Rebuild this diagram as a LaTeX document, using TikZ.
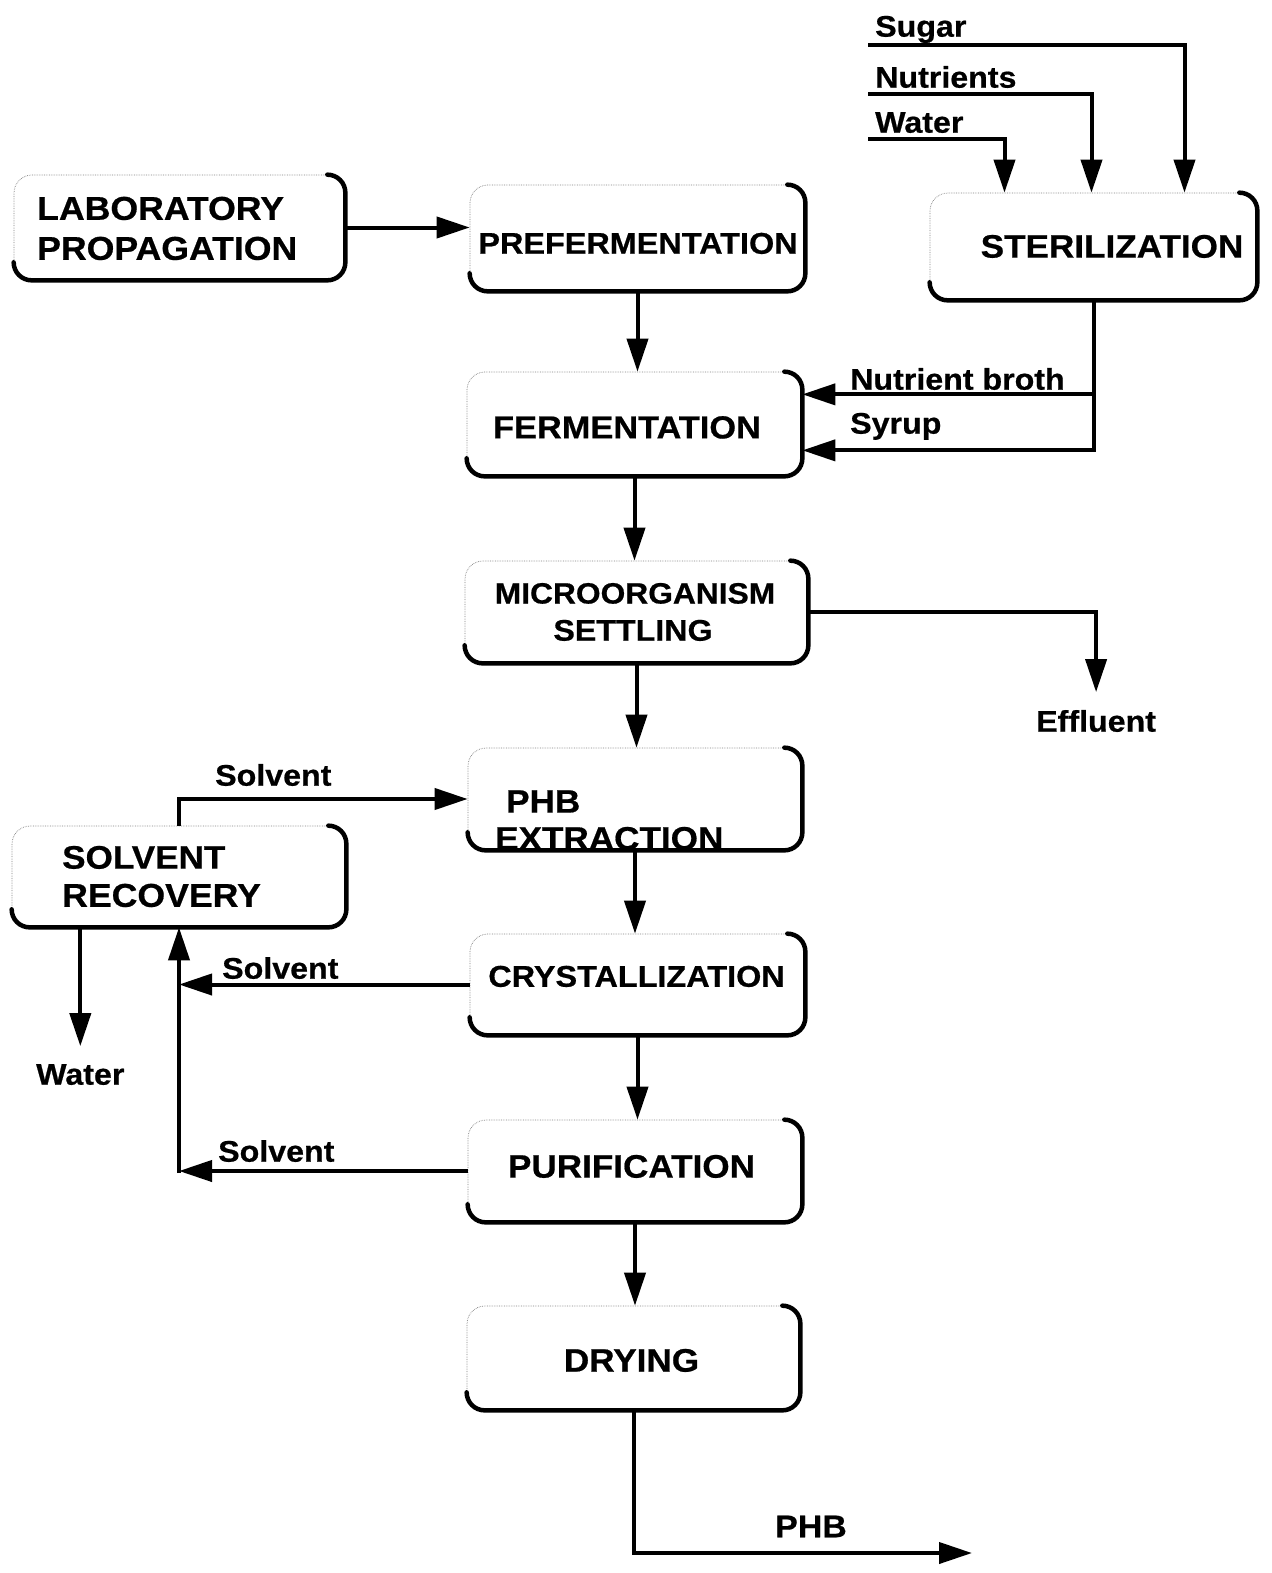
\documentclass[tikz,border=0pt]{standalone}
\usepackage{fontspec}
\usetikzlibrary{arrows.meta}
\newfontfamily\wide[FakeStretch=1.08,FakeBold=0.6]{Liberation Sans}
\newcommand\setsz[1]{\fontsize{#1}{#1}\selectfont}
\begin{document}
\begin{tikzpicture}[x=1pt,y=-1pt,
  stage/.style={draw=black!50, line width=0.7pt, densely dotted, rounded corners=18pt,
    inner sep=0pt, fill=white},
  rim/.style={line width=4.5pt, rounded corners=18pt, line cap=round},
  tx/.style={inner sep=0pt, font=\wide\bfseries\setsz{#1}, text height=0.716*#1pt, text depth=0pt},
  tx/.default=32.5,
  flow/.style={line width=4pt, -{Triangle[length=33pt,width=21pt]}},
  pipe/.style={line width=4pt}]
\useasboundingbox (0,0) rectangle (1271,1573);

% process boxes
\node[stage, minimum width=331pt, minimum height=105pt] (lab)    at (179.5,227.5) {};
\node[stage, minimum width=335pt, minimum height=106pt] (pref)   at (637.5,238)   {};
\node[stage, minimum width=327pt, minimum height=107pt] (ster)   at (1093.5,246.5){};
\node[stage, minimum width=335pt, minimum height=104pt] (ferm)   at (634.5,424)   {};
\node[stage, minimum width=343pt, minimum height=102pt] (micro)  at (636.5,612)   {};
\node[stage, minimum width=334pt, minimum height=102pt] (phb)    at (635,799)     {};
\node[stage, minimum width=334pt, minimum height=101pt] (solrec) at (179,876.5)   {};
\node[stage, minimum width=335pt, minimum height=101pt] (cryst)  at (637.5,984.5) {};
\node[stage, minimum width=334pt, minimum height=102pt] (purif)  at (635,1171)    {};
\node[stage, minimum width=333pt, minimum height=104pt] (dry)    at (633.5,1358)  {};

% heavy lower-right rims of the boxes
\foreach \b in {lab,pref,ster,ferm,micro,phb,solrec,cryst,purif,dry}
  \draw[rim] ([xshift=-18pt]\b.north east) -- (\b.north east) -- (\b.south east)
             -- (\b.south west) -- ([yshift=18pt]\b.south west);

% box texts
\node[tx=33, anchor=west] (labA) at (37,208) {LABORATORY};
\node[tx=33, anchor=west] (labB) at (37,248) {PROPAGATION};
\node[tx=30] (prefT) at (638,243) {PREFERMENTATION};
\node[tx] (sterT) at (1112,246) {STERILIZATION};
\node[tx=31.8] (fermT) at (627,427) {FERMENTATION};
\node[tx=29.4] (microA) at (635,593) {MICROORGANISM};
\node[tx=29.8] (microB) at (633,630) {SETTLING};
\node[tx, anchor=west] (phbA) at (506,801) {PHB};
\node[tx, anchor=west] (phbB) at (495,838) {EXTRACTION};
\node[tx, anchor=west] (srA) at (62,857) {SOLVENT};
\node[tx=33, anchor=west] (srB) at (62,895) {RECOVERY};
\node[tx=30] (crystT) at (636.5,976) {CRYSTALLIZATION};
\node[tx] (purifT) at (631.5,1166) {PURIFICATION};
\node[tx] (dryT) at (631.5,1360) {DRYING};

% stream labels
\node[tx=29.8, anchor=west] (sugar) at (875,26) {Sugar};
\node[tx=29.8, anchor=west] (nutr) at (875,77) {Nutrients};
\node[tx=29.8, anchor=west] (wat) at (875,122) {Water};
\node[tx=29.8, anchor=west] (nbroth) at (850,379) {Nutrient broth};
\node[tx=29.8, anchor=west] (syrup) at (850,423) {Syrup};
\node[tx=29.8, anchor=west] (eff) at (1036,721) {Effluent};
\node[tx=29.8, anchor=west] (solvA) at (215,775) {Solvent};
\node[tx=29.8, anchor=west] (solvB) at (222,968) {Solvent};
\node[tx=29.8, anchor=west] (solvC) at (218,1151) {Solvent};
\node[tx=29.8, anchor=west] (watout) at (36,1074) {Water};
\node[tx=31.4, anchor=west] (phbout) at (775,1526) {PHB};

% feed lines into sterilization
\coordinate (sugarin) at (868,45);
\coordinate (nutrin) at (868,94);
\coordinate (watin) at (868,139);
\draw[flow] (sugarin) -| ([xshift=91pt]ster.north);
\draw[flow] (nutrin) -| ([xshift=-2pt]ster.north);
\draw[flow] (watin) -| ([xshift=-89pt]ster.north);

% main line
\draw[flow] (lab.east) -- (lab.east -| pref.west);
\draw[flow] (pref.south) -- (pref.south |- ferm.north);
\draw[flow] (ferm.south) -- (ferm.south |- micro.north);
\draw[flow] (micro.south) -- (micro.south |- phb.north);
\draw[flow] (phb.south) -- (phb.south |- cryst.north);
\draw[flow] (cryst.south) -- (cryst.south |- purif.north);
\draw[flow] (purif.south) -- (purif.south |- dry.north);
\coordinate (phbend) at (972,1553);
\draw[flow] (dry.south) |- (phbend);

% sterilized streams to fermentation
\coordinate (nbj) at ([yshift=-94pt]ster.south);
\coordinate (syj) at ([yshift=-150pt]ster.south);
\draw[pipe] (ster.south) -- ([yshift=-2pt]syj);
\draw[flow] (nbj) -- (nbj -| ferm.east);
\draw[flow] (syj) -- (syj -| ferm.east);

% effluent
\draw[flow] (micro.east) -| ([yshift=18pt]eff.north);

% solvent loop
\draw[flow] (solrec.north) |- (phb.west);
\draw[flow] (cryst.west) -- (cryst.west -| solrec.south);
\draw[flow] (purif.west) -- (purif.west -| solrec.south);
\draw[flow] ([yshift=-2pt]purif.west -| solrec.south) -- (solrec.south);
\draw[flow] (watout.north |- solrec.south) -- ([yshift=17pt]watout.north);
\end{tikzpicture}
\end{document}
